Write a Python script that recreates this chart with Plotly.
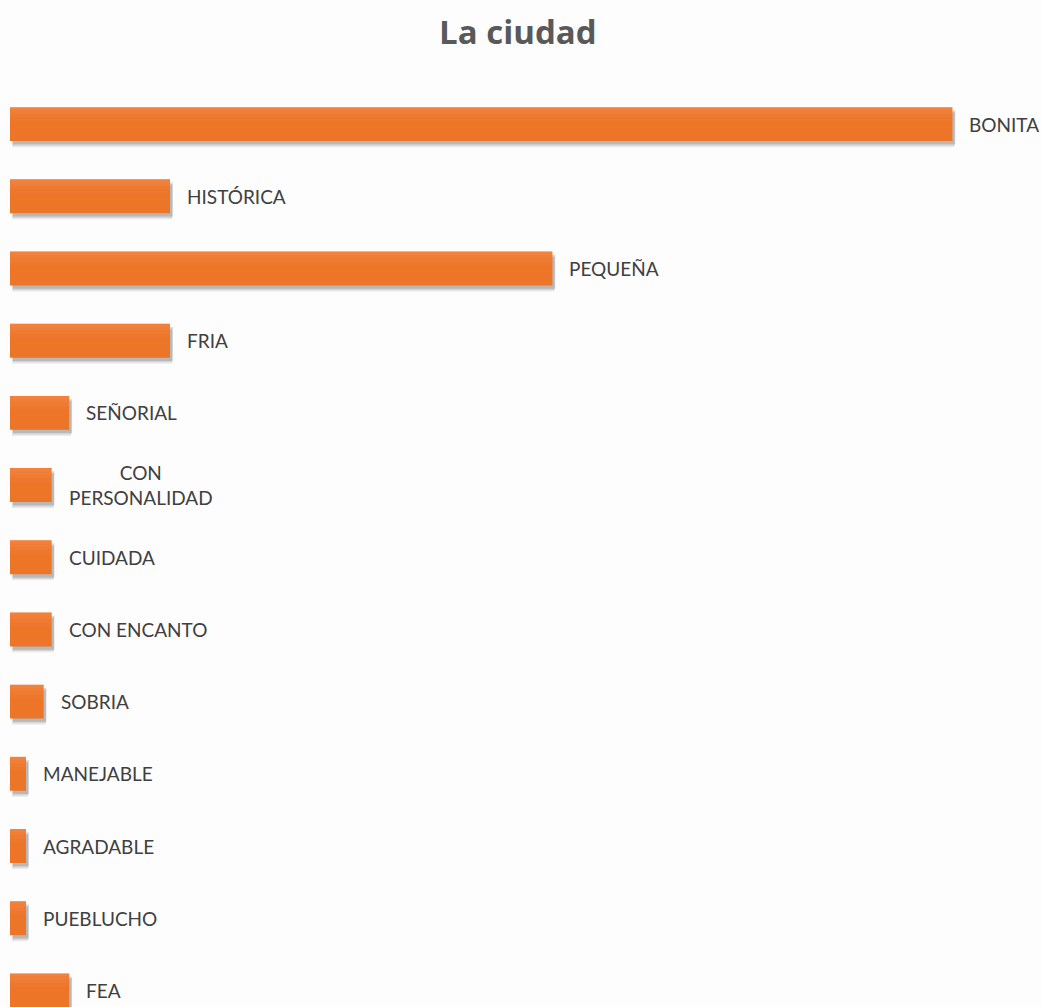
import plotly.graph_objects as go

# Survey answers describing the city and how often each word came up
categories = ["BONITA", "HISTÓRICA", "PEQUEÑA", "FRIA", "SEÑORIAL",
              "CON PERSONALIDAD", "CUIDADA", "CON ENCANTO", "SOBRIA",
              "MANEJABLE", "AGRADABLE", "PUEBLUCHO", "FEA"]
values = [58.9, 10, 33.9, 10, 3.7, 2.6, 2.6, 2.6, 2.1, 1, 1, 1, 3.7]
labels = ["BONITA", "HISTÓRICA", "PEQUEÑA", "FRIA", "SEÑORIAL",
          "CON<br>PERSONALIDAD", "CUIDADA", "CON ENCANTO", "SOBRIA",
          "MANEJABLE", "AGRADABLE", "PUEBLUCHO", "FEA"]

BAR_W = 0.47
fig = go.Figure()

# soft drop shadow under each bar
for k, (shift, alpha) in enumerate([(0.085, 0.08), (0.065, 0.12), (0.045, 0.16)]):
    fig.add_trace(go.Bar(
        y=categories, x=values, orientation="h", base=0.12 + 0.03 * k,
        width=BAR_W, offset=-BAR_W / 2 + shift,
        marker=dict(color=f"rgba(40,40,40,{alpha})", line_width=0),
        hoverinfo="skip", showlegend=False))

# main bar
fig.add_trace(go.Bar(
    y=categories, x=values, orientation="h",
    width=BAR_W, offset=-BAR_W / 2,
    marker=dict(color="#ec7527", line_width=0),
    showlegend=False))

# lighter upper bands to give the bar a vertical gradient
bands = [(0.00, 0.10, "rgba(255,160,110,0.30)"),
         (0.10, 0.20, "rgba(255,160,110,0.22)"),
         (0.20, 0.30, "rgba(255,160,110,0.14)"),
         (0.30, 0.40, "rgba(255,160,110,0.07)")]
for top, bottom, col in bands:
    fig.add_trace(go.Bar(
        y=categories, x=values, orientation="h",
        width=BAR_W * (bottom - top), offset=-BAR_W / 2 + BAR_W * top,
        marker=dict(color=col, line_width=0),
        hoverinfo="skip", showlegend=False))

for cat, val, lab in zip(categories, values, labels):
    fig.add_annotation(
        x=val, y=cat, text=lab, showarrow=False,
        xanchor="left", yanchor="middle", xshift=15, align="center",
        font=dict(family="Lato, Open Sans, sans-serif", size=19, color="#404040"))

fig.update_layout(
    width=1042, height=1007,
    barmode="overlay",
    paper_bgcolor="#fdfdfd", plot_bgcolor="#fdfdfd",
    margin=dict(l=10, r=0, t=88, b=0),
    title=dict(text="<b>La ciudad</b>", x=0.497, xanchor="center",
               y=0.968, yanchor="middle",
               font=dict(family="Open Sans, sans-serif", size=33, color="#595959")),
    xaxis=dict(range=[0, 64.5], visible=False, fixedrange=True),
    yaxis=dict(type="category", categoryorder="array", categoryarray=categories,
               range=[12.23, -0.5], visible=False, fixedrange=True),
)

fig.write_html("out.html")
